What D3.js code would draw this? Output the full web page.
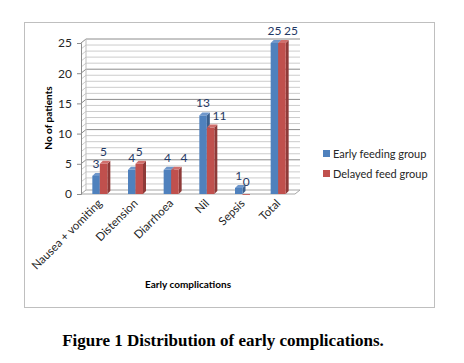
<!DOCTYPE html>
<html>
<head>
<meta charset="utf-8">
<script src="https://cdn.jsdelivr.net/npm/d3@7"></script>
<style>
  body { margin: 0; background: #fff; }
  svg { display: block; }
</style>
</head>
<body>
<svg id="chart"></svg>
<script>
// chart data
const categories = ["Nausea + vomiting", "Distension", "Diarrhoea", "Nil", "Sepsis", "Total"];
const earlyFeeding = [3, 4, 4, 13, 1, 25];
const delayedFeed = [5, 5, 4, 11, 0, 25];
const seriesNames = ["Early feeding group", "Delayed feed group"];
const yTicks = [0, 5, 10, 15, 20, 25];

const width = 464, height = 363;
const svg = d3.select("#chart").attr("width", width).attr("height", height);

// outer chart frame
svg.append("rect")
    .attr("x", 24.5).attr("y", 22.5)
    .attr("width", 410).attr("height", 285)
    .attr("fill", "#fff").attr("stroke", "#bfbfbf");

const x0 = 81, x1 = 295;          // front floor edge
const dx = 5, dy = -4;            // 3D depth offset
const y = d3.scaleLinear().domain([0, 25]).range([194, 43]);
const x = d3.scaleBand().domain(categories).range([x0 + 1, x1 + 1]).padding(0);
const groupW = 15;
const xs = d3.scaleBand().domain(seriesNames).range([0, groupW]);

const colors = {
    front: ["#4f81bd", "#c0504d"],
    side: ["#3a5f8c", "#8e3a38"],
    top: ["#6f97cb", "#d06f6c"]
};

// floor
svg.append("path")
    .attr("d", `M${x0},${y(0)} L${x1},${y(0)} L${x1 + dx},${y(0) + dy} L${x0 + dx},${y(0) + dy} Z`)
    .attr("fill", "#fff").attr("stroke", "#a6a6a6");

// gridlines on the walls (minor every 1, major every 5)
const gridVals = d3.range(1, 26);
svg.append("g").selectAll("path")
    .data(gridVals)
    .join("path")
    .attr("d", v => `M${x0},${y(v)} L${x0 + dx},${y(v) + dy} L${x1 + dx},${y(v) + dy}`)
    .attr("fill", "none")
    .attr("stroke", v => v % 5 === 0 ? "#8c8c8c" : "#cccccc")
    .attr("stroke-width", 1);

// left wall edge
svg.append("line")
    .attr("x1", x0 + dx).attr("x2", x0 + dx)
    .attr("y1", y(0) + dy).attr("y2", y(25) + dy)
    .attr("stroke", "#bfbfbf");

// y axis
const yAxis = d3.axisLeft(y).tickValues(yTicks).tickSize(4).tickPadding(5);
const gy = svg.append("g").attr("transform", `translate(${x0},0)`).call(yAxis);
gy.select(".domain").attr("stroke", "#8c8c8c");
gy.selectAll(".tick line").attr("stroke", "#8c8c8c");
gy.selectAll(".tick text")
    .attr("font-family", "Lato, 'Open Sans', sans-serif")
    .attr("font-size", 12)
    .attr("fill", "#262626");

// bars
const series = [earlyFeeding, delayedFeed];
const bw = xs.bandwidth();
const d = 3;
series.forEach((vals, si) => {
    const g = svg.append("g");
    categories.forEach((c, i) => {
        const bx = x(c) + x.bandwidth() / 2 - groupW / 2 + xs(seriesNames[si]);
        const by = y(vals[i]);
        const b0 = y(0);
        if (vals[i] > 0) {
            // side
            g.append("path")
                .attr("d", `M${bx + bw},${by} L${bx + bw + d},${by - d} L${bx + bw + d},${b0 - d} L${bx + bw},${b0} Z`)
                .attr("fill", colors.side[si]);
            // top
            g.append("path")
                .attr("d", `M${bx},${by} L${bx + d},${by - d} L${bx + bw + d},${by - d} L${bx + bw},${by} Z`)
                .attr("fill", colors.top[si]);
        }
        g.append("rect")
            .attr("x", bx).attr("y", by)
            .attr("width", bw).attr("height", Math.max(b0 - by, 0.8))
            .attr("fill", colors.front[si]);
        // value label (delayed label moves right when it would hit the early one)
        let lx = bx + bw / 2;
        if (si === 1 && vals[i] > 0 && vals[i] <= earlyFeeding[i]) lx += 9;
        g.append("text")
            .attr("x", lx)
            .attr("y", by - 8)
            .attr("text-anchor", "middle")
            .attr("font-family", "Lato, 'Open Sans', sans-serif")
            .attr("font-size", 12)
            .attr("fill", "#1f3864")
            .text(vals[i]);
    });
});

// x axis labels
svg.append("g").selectAll("text")
    .data(categories)
    .join("text")
    .attr("transform", c => `translate(${x(c) + x.bandwidth() / 2 + 3},${y(0) + 10}) rotate(-45)`)
    .attr("text-anchor", "end")
    .attr("font-family", "Lato, 'Open Sans', sans-serif")
    .attr("font-size", 11.5)
    .attr("fill", "#262626")
    .text(c => c);

// axis titles
svg.append("text")
    .attr("transform", "translate(52,118) rotate(-90)")
    .attr("text-anchor", "middle")
    .attr("font-family", "Lato, 'Open Sans', sans-serif")
    .attr("font-size", 10)
    .attr("font-weight", "bold")
    .attr("fill", "#000")
    .text("No of patients");

svg.append("text")
    .attr("x", 188).attr("y", 288)
    .attr("text-anchor", "middle")
    .attr("font-family", "Lato, 'Open Sans', sans-serif")
    .attr("font-size", 10)
    .attr("font-weight", "bold")
    .attr("fill", "#000")
    .text("Early complications");

// legend
const legend = svg.append("g").selectAll("g")
    .data(seriesNames)
    .join("g")
    .attr("transform", (s, i) => `translate(323,${150 + i * 20})`);
legend.append("rect")
    .attr("width", 7).attr("height", 7)
    .attr("fill", (s, i) => colors.front[i]);
legend.append("text")
    .attr("x", 10).attr("y", 7.5)
    .attr("font-family", "Lato, 'Open Sans', sans-serif")
    .attr("font-size", 11)
    .attr("fill", "#262626")
    .text(s => s);

// caption
svg.append("text")
    .attr("x", 223).attr("y", 346)
    .attr("text-anchor", "middle")
    .attr("font-family", "'Liberation Serif', 'Times New Roman', serif")
    .attr("font-size", 17)
    .attr("font-weight", "bold")
    .attr("fill", "#000")
    .text("Figure 1 Distribution of early complications.");
</script>
</body>
</html>
